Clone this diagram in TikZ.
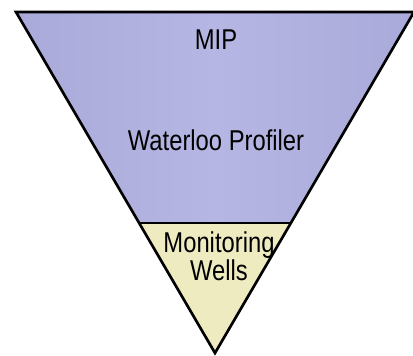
\documentclass[tikz,border=0pt]{standalone}
\usepackage{fontspec}
\setmainfont{Liberation Sans}
\definecolor{lav}{RGB}{170,170,218}
\definecolor{lavlight}{RGB}{182,182,228}
\definecolor{beige}{RGB}{239,235,193}
\newcommand{\cond}[1]{\scalebox{0.83}[1]{#1}}
\tikzset{
  lbl/.style={font=\fontsize{21.5pt}{20pt}\selectfont, align=center, inner sep=0pt, text=black},
  edge/.style={draw=black, line width=2pt, line join=miter},
}
\begin{document}
\begin{tikzpicture}[x=0.75pt,y=-0.75pt]
\useasboundingbox (0,0) rectangle (413,356);
\coordinate (tl) at (16,12);
\coordinate (tr) at (414,12);
\coordinate (ap) at (215,353);
\coordinate (ml) at (138.4,223);
\coordinate (mr) at (291.6,223);
% upper band
\fill[left color=lav, right color=lav, middle color=lavlight] (tl) -- (tr) -- (mr) -- (ml) -- cycle;
% lower band
\fill[beige] (ml) -- (mr) -- (ap) -- cycle;
\draw[black, line width=1.3pt] (ml) -- (mr);
\draw[edge] (tl) -- (tr) -- (ap) -- cycle;
\node[lbl] (mip) at (216,40) {\cond{MIP}};
\node[lbl] (wp) at (216,140) {\cond{Waterloo Profiler}};
\node[lbl] (mw) at (219,256) {\cond{Monitoring}\\\cond{Wells}};
\end{tikzpicture}
\end{document}
